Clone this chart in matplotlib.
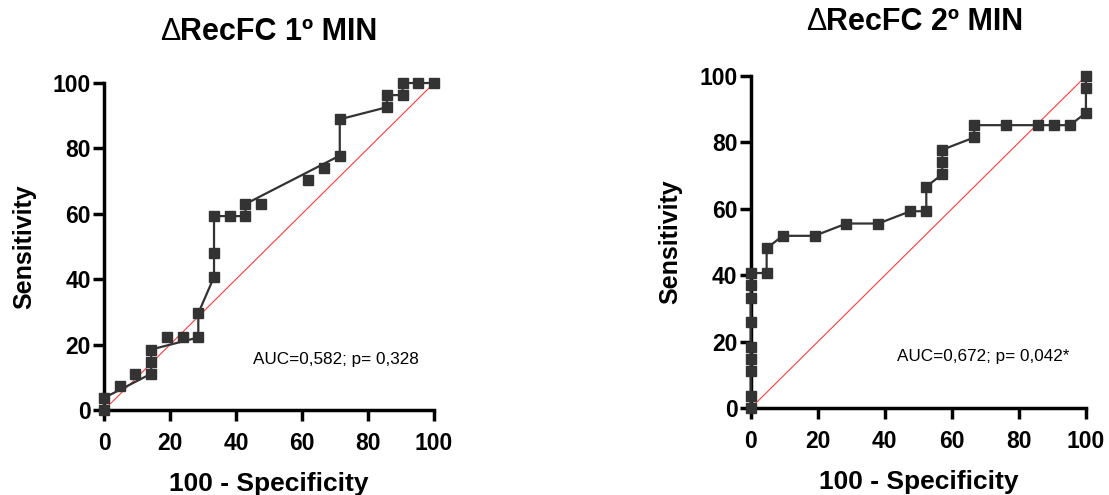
import matplotlib
matplotlib.use("Agg")
import matplotlib.pyplot as plt

plt.rcParams['font.family'] = ['Liberation Sans', 'DejaVu Sans']

# Painel 1 - pontos da curva ROC (100 - especificidade, sensibilidade)
fpr_1 = [0, 0, 4.76, 9.52, 14.29, 14.29, 14.29, 19.05, 23.81, 28.57, 28.57,
         33.33, 33.33, 33.33, 38.10, 42.86, 42.86, 47.62, 61.90, 66.67,
         71.43, 71.43, 85.71, 85.71, 90.48, 90.48, 95.24, 100]
sens_1 = [0, 3.7, 7.4, 11.1, 11.1, 14.8, 18.5, 22.2, 22.2, 22.2, 29.6,
          40.7, 48.1, 59.3, 59.3, 59.3, 63.0, 63.0, 70.4, 74.1,
          77.8, 88.9, 92.6, 96.3, 96.3, 100, 100, 100]
# linha do painel 1 (nem todos os pontos estao ligados)
line_fpr_1 = [0, 0, 14.29, 14.29, 28.57, 28.57, 33.33, 33.33, 42.86, 42.86,
              71.43, 71.43, 85.71, 85.71, 90.48, 90.48, 100]
line_sens_1 = [0, 3.7, 11.1, 18.5, 22.2, 29.6, 40.7, 59.3, 59.3, 63.0,
               77.8, 88.9, 92.6, 96.3, 96.3, 100, 100]

# Painel 2
fpr_2 = [0, 0, 0, 0, 0, 0, 0, 0, 0, 4.76, 4.76, 9.52, 19.05, 28.57, 38.10,
         47.62, 52.38, 52.38, 57.14, 57.14, 57.14, 66.67, 66.67, 76.19,
         85.71, 90.48, 95.24, 100, 100, 100]
sens_2 = [0, 3.7, 11.1, 14.8, 18.5, 25.9, 33.3, 37.0, 40.7, 40.7, 48.1,
          51.9, 51.9, 55.6, 55.6, 59.3, 59.3, 66.7, 70.4, 74.1, 77.8,
          81.5, 85.2, 85.2, 85.2, 85.2, 85.2, 88.9, 96.3, 100]

titles = ['RecFC 1\u00ba MIN', 'RecFC 2\u00ba MIN']
auc_text = ['AUC=0,582; p= 0,328', 'AUC=0,672; p= 0,042*']
ticks = [0, 20, 40, 60, 80, 100]

fig = plt.figure(figsize=(11.09, 4.95), dpi=100)
ax1 = fig.add_axes([0.0938, 0.1717, 0.2976, 0.6606])
ax2 = fig.add_axes([0.6769, 0.1752, 0.3023, 0.6713])


def style_axis(ax):
    ax.set_xlim(0, 100)
    ax.set_ylim(0, 100)
    ax.set_xticks(ticks)
    ax.set_yticks(ticks)
    for s in ['top', 'right']:
        ax.spines[s].set_visible(False)
    for s in ['left', 'bottom']:
        ax.spines[s].set_linewidth(2.5)
    ax.tick_params(length=8, width=2.5, labelsize=16.5)
    ax.tick_params(axis='x', pad=8)
    ax.tick_params(axis='y', pad=1.5)
    for lab in ax.get_xticklabels() + ax.get_yticklabels():
        lab.set_fontweight('bold')
    ax.set_xlabel('100 - Specificity', fontsize=19, fontweight='bold', labelpad=12)
    ax.set_ylabel('Sensitivity', fontsize=18, fontweight='bold', labelpad=12)


# diagonal de referencia
for ax in (ax1, ax2):
    ax.plot([0, 100], [0, 100], color='#ff3b3b', lw=0.8, zorder=2)

ax1.plot(line_fpr_1, line_sens_1, color='#333333', lw=1.6, zorder=3, clip_on=False)
ax1.plot(fpr_1, sens_1, 's', color='#333333', ms=7.3, zorder=4, clip_on=False)
ax2.plot(fpr_2, sens_2, '-s', color='#333333', lw=1.6, ms=7.3, zorder=4, clip_on=False)

# titulo: delta fino + resto em negrito
for ax, t, a, tx, ty, xa, ya in [(ax1, titles[0], auc_text[0], 160 / 1109, 0.935, 45.2, 15.3),
                                 (ax2, titles[1], auc_text[1], 806 / 1109, 0.956, 43.5, 15.7)]:
    style_axis(ax)
    ax.text(xa, ya, a, fontsize=12.3, va='center', ha='left')
    d = fig.text(tx, ty, '\u0394', fontsize=22, ha='left', va='center')
    ax.annotate(t, xy=(1, 0), xycoords=d, fontsize=22, fontweight='bold',
                ha='left', va='bottom', annotation_clip=False)

fig.savefig('out.png', dpi=100)
